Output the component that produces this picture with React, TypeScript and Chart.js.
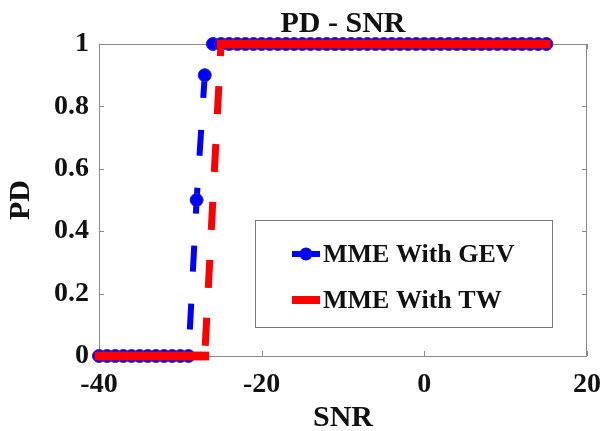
import React, { useEffect, useRef } from "react";
import { Chart, registerables } from "chart.js";

Chart.register(...registerables);

const titleText = "PD - SNR";
const xLabel = "SNR";
const yLabel = "PD";
const seriesLabels = ["MME With GEV", "MME With TW"];

const snrValues = [
  -40, -39, -38, -37, -36, -35, -34, -33, -32, -31, -30, -29, -28, -27, -26, -25,
  -24, -23, -22, -21, -20, -19, -18, -17, -16, -15, -14, -13, -12, -11, -10, -9,
  -8, -7, -6, -5, -4, -3, -2, -1, 0, 1, 2, 3, 4, 5, 6, 7, 8, 9, 10, 11, 12, 13, 14, 15,
];

const pdGEV = [
  0, 0, 0, 0, 0, 0, 0, 0, 0, 0, 0, 0, 0.5, 0.9, 1, 1,
  1, 1, 1, 1, 1, 1, 1, 1, 1, 1, 1, 1, 1, 1, 1, 1,
  1, 1, 1, 1, 1, 1, 1, 1, 1, 1, 1, 1, 1, 1, 1, 1, 1, 1, 1, 1, 1, 1, 1, 1,
];

const pdTW = [
  0, 0, 0, 0, 0, 0, 0, 0, 0, 0, 0, 0, 0, 0, null, 1,
  1, 1, 1, 1, 1, 1, 1, 1, 1, 1, 1, 1, 1, 1, 1, 1,
  1, 1, 1, 1, 1, 1, 1, 1, 1, 1, 1, 1, 1, 1, 1, 1, 1, 1, 1, 1, 1, 1, 1, 1,
];

const xTicks = [-40, -20, 0, 20];
const yTicks = [0, 0.2, 0.4, 0.6, 0.8, 1];
const yTickLabels = ["0", "0.2", "0.4", "0.6", "0.8", "1"];

const FONT = "'Liberation Serif', 'Times New Roman', serif";
const BLUE = "rgb(0,0,255)";
const RED = "rgb(255,0,0)";

const boxPlugin = {
  id: "boxPlugin",
  beforeDatasetsDraw(chart: any) {
    const { ctx, chartArea: ca, scales } = chart;
    ctx.save();
    ctx.strokeStyle = "#8a8a8a";
    ctx.lineWidth = 1;
    ctx.strokeRect(ca.left + 0.5, ca.top + 0.5, ca.right - ca.left - 1, ca.bottom - ca.top);
    const tl = 5;
    ctx.beginPath();
    for (const v of xTicks) {
      const x = Math.round(scales.x.getPixelForValue(v)) + 0.5;
      ctx.moveTo(x, ca.bottom);
      ctx.lineTo(x, ca.bottom - tl);
      ctx.moveTo(x, ca.top);
      ctx.lineTo(x, ca.top + tl);
    }
    for (const v of yTicks) {
      const y = Math.round(scales.y.getPixelForValue(v)) + 0.5;
      ctx.moveTo(ca.left, y);
      ctx.lineTo(ca.left + tl, y);
      ctx.moveTo(ca.right, y);
      ctx.lineTo(ca.right - tl, y);
    }
    ctx.stroke();
    ctx.restore();
  },
  afterDatasetsDraw(chart: any) {
    const { ctx, chartArea: ca } = chart;
    const bx = ca.left + 156;
    const by = ca.top + 176;
    const bw = 297;
    const bh = 107;
    ctx.save();
    ctx.fillStyle = "#fff";
    ctx.fillRect(bx, by, bw, bh);
    ctx.strokeStyle = "#777";
    ctx.lineWidth = 1;
    ctx.strokeRect(bx + 0.5, by + 0.5, bw, bh);
    const rows = [by + 34, by + 80];
    const x0 = bx + 37;
    const x1 = bx + 65;
    // GEV sample
    ctx.strokeStyle = BLUE;
    ctx.lineWidth = 6;
    ctx.beginPath();
    ctx.moveTo(x0, rows[0]);
    ctx.lineTo(x1, rows[0]);
    ctx.stroke();
    ctx.fillStyle = BLUE;
    ctx.beginPath();
    ctx.arc((x0 + x1) / 2, rows[0], 6.5, 0, Math.PI * 2);
    ctx.fill();
    // TW sample
    ctx.strokeStyle = RED;
    ctx.lineWidth = 8;
    ctx.beginPath();
    ctx.moveTo(x0, rows[1]);
    ctx.lineTo(x1, rows[1]);
    ctx.stroke();
    ctx.fillStyle = "#111";
    ctx.font = `bold 26px ${FONT}`;
    ctx.textBaseline = "middle";
    ctx.textAlign = "left";
    ctx.fillText(chart.data.datasets[0].label, x1 + 3, rows[0] + 1);
    ctx.fillText(chart.data.datasets[1].label, x1 + 3, rows[1] + 1);
    ctx.restore();
  },
};

export default function App() {
  const canvasRef = useRef<HTMLCanvasElement | null>(null);

  useEffect(() => {
    const canvas = canvasRef.current;
    if (!canvas) return;
    const gevPoints = snrValues.map((x, i) => ({ x, y: pdGEV[i] }));
    const twPoints = snrValues.map((x, i) => ({ x, y: pdTW[i] }));
    const chart = new Chart(canvas, {
      type: "line",
      data: {
        datasets: [
          {
            label: seriesLabels[0],
            data: gevPoints,
            order: 1,
            borderColor: BLUE,
            borderWidth: 6,
            borderDash: [26, 32],
            backgroundColor: BLUE,
            pointStyle: "circle",
            pointRadius: 6.5,
            pointBackgroundColor: BLUE,
            pointBorderColor: "#2a2aa8",
            pointBorderWidth: 1,
            clip: false as any,
            tension: 0,
          } as any,
          {
            label: seriesLabels[1],
            data: twPoints,
            order: 0,
            borderColor: RED,
            borderWidth: 7,
            borderDash: [28, 30],
            backgroundColor: RED,
            pointStyle: "rect",
            pointRadius: 6.2,
            pointBackgroundColor: RED,
            pointBorderWidth: 0,
            spanGaps: true,
            clip: false as any,
            tension: 0,
          } as any,
        ],
      },
      options: {
        responsive: false,
        animation: false,
        devicePixelRatio: 1,
        layout: { padding: { left: 0, right: 14, top: 0, bottom: 0 } },
        plugins: {
          legend: { display: false },
          tooltip: { enabled: false },
          title: {
            display: true,
            text: titleText,
            fullSize: false,
            color: "#111",
            font: { family: FONT, size: 30, weight: "bold", lineHeight: 1.2 },
            padding: { top: 6, bottom: 2 },
          },
        },
        scales: {
          x: {
            type: "linear",
            min: -40,
            max: 20,
            afterFit: (s: any) => {
              s.height = 75;
              s.paddingLeft = 0;
              s.paddingRight = 0;
            },
            afterBuildTicks: (s: any) => { s.ticks = xTicks.map((v) => ({ value: v })); },
            ticks: {
              color: "#111",
              padding: 12,
              maxRotation: 0,
              font: { family: FONT, size: 28, weight: "bold" },
            },
            grid: { display: false, drawTicks: false },
            border: { display: false },
            title: {
              display: true,
              text: xLabel,
              color: "#111",
              font: { family: FONT, size: 30, weight: "bold", lineHeight: 0.85 },
              padding: { top: 0, bottom: 0 },
            },
          },
          y: {
            type: "linear",
            min: 0,
            max: 1,
            afterFit: (s: any) => {
              s.width = 99;
              s.paddingTop = 0;
              s.paddingBottom = 0;
            },
            afterBuildTicks: (s: any) => { s.ticks = yTicks.map((v) => ({ value: v })); },
            ticks: {
              color: "#111",
              padding: 10,
              font: { family: FONT, size: 28, weight: "bold" },
              callback: (_v: any, i: number) => yTickLabels[i],
            },
            grid: { display: false, drawTicks: false },
            border: { display: false },
            title: {
              display: true,
              text: yLabel,
              color: "#111",
              font: { family: FONT, size: 30, weight: "bold", lineHeight: 1 },
              padding: { top: 6, bottom: 0 },
            },
          },
        },
      } as any,
      plugins: [boxPlugin],
    });
    return () => chart.destroy();
  }, []);

  return (
    <div style={{ position: "absolute", left: 0, top: 0, width: 601, height: 431, background: "#fff" }}>
      <canvas ref={canvasRef} width={601} height={431} style={{ display: "block" }} />
    </div>
  );
}
